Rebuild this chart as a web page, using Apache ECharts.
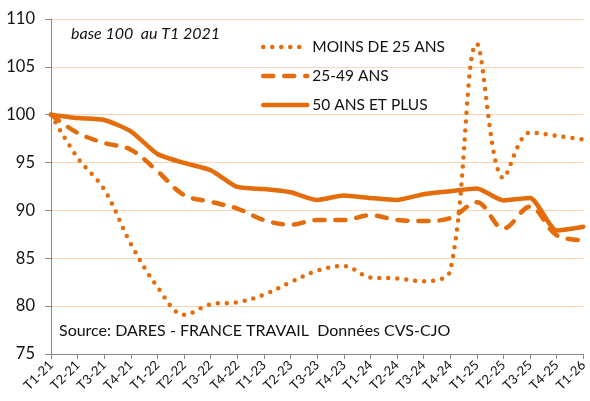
<!DOCTYPE html>
<html><head><meta charset="utf-8">
<script src="https://cdn.jsdelivr.net/npm/echarts@6/dist/echarts.min.js"></script>
<style>html,body{margin:0;padding:0;background:#fff}#c{width:590px;height:401px}</style>
</head><body><div id="c"></div>
<script>
var categories = ['T1-21','T2-21','T3-21','T4-21','T1-22','T2-22','T3-22','T4-22','T1-23','T2-23','T3-23','T4-23','T1-24','T2-24','T3-24','T4-24','T1-25','T2-25','T3-25','T4-25','T1-26'];
var moins25 = [100, 95.5, 92.2, 86.5, 82.0, 79.1, 80.2, 80.4, 81.2, 82.5, 83.7, 84.2, 83.0, 82.9, 82.6, 83.7, 107.4, 93.4, 98.15, 97.8, 97.4];
var ans2549 = [100, 98.1, 97.05, 96.35, 94.1, 91.6, 90.9, 90.2, 89.0, 88.5, 89.0, 89.0, 89.5, 89.0, 88.9, 89.2, 90.85, 88.1, 90.4, 87.4, 86.9];
var ans50plus = [100, 99.65, 99.45, 98.26, 95.9, 94.96, 94.2, 92.45, 92.24, 91.9, 91.1, 91.55, 91.3, 91.1, 91.7, 92.0, 92.28, 91.05, 91.3, 87.9, 88.3];
var yTicks = [75, 80, 85, 90, 95, 100, 105, 110];
var seriesNames = ['MOINS DE 25 ANS', '25-49 ANS', '50 ANS ET PLUS'];
var subtitle = 'base 100  au T1 2021';
var source = 'Source: DARES - FRANCE TRAVAIL  Données CVS-CJO';

var orange = '#E46C0A';
var font = 'Lato, "Open Sans", sans-serif';
var chart = echarts.init(document.getElementById('c'), null, {renderer: 'canvas'});
chart.setOption({
  animation: false,
  grid: {left: 51, right: 1, top: 19, bottom: 47, containLabel: false},
  legend: {
    orient: 'vertical', left: 256, top: 34, itemGap: 13, itemWidth: 44, itemHeight: 19,
    textStyle: {fontFamily: font, fontSize: 15.5, color: '#111'},
    itemStyle: {opacity: 0},
    lineStyle: {width: 4.5},
    data: seriesNames
  },
  graphic: [
    {type: 'text', left: 71, top: 26, style: {text: subtitle, font: 'italic 16px ' + font, fill: '#111'}},
    {type: 'text', left: 59, top: 323, style: {text: source, font: '16px ' + font, fill: '#111'}}
  ],
  xAxis: {
    type: 'category', data: categories, boundaryGap: false,
    axisLine: {lineStyle: {color: '#888', width: 1}},
    axisTick: {show: true, alignWithLabel: true, length: 5, lineStyle: {color: '#888'}},
    axisLabel: {rotate: 45, interval: 0, fontFamily: font, fontSize: 13, color: '#111', margin: 9},
    splitLine: {show: false}
  },
  yAxis: {
    type: 'value', min: 75, max: 110, interval: 5,
    axisLine: {show: true, lineStyle: {color: '#888', width: 1}},
    axisTick: {show: true, length: 6, lineStyle: {color: '#888'}},
    axisLabel: {fontFamily: font, fontSize: 16.5, color: '#111', margin: 16},
    splitLine: {lineStyle: {color: '#FCD5B4', width: 1}}
  },
  series: [
    {name: seriesNames[0], type: 'line', data: moins25, smooth: 0.35, symbol: 'none',
     lineStyle: {color: orange, width: 4.5, type: [0, 9], cap: 'round'}, itemStyle: {color: orange}},
    {name: seriesNames[1], type: 'line', data: ans2549, smooth: 0.35, symbol: 'none',
     lineStyle: {color: orange, width: 4.5, type: [10, 11], cap: 'round'}, itemStyle: {color: orange}},
    {name: seriesNames[2], type: 'line', data: ans50plus, smooth: 0.2, symbol: 'none',
     lineStyle: {color: orange, width: 4.5, cap: 'round', join: 'round'}, itemStyle: {color: orange}}
  ]
});
</script></body></html>
